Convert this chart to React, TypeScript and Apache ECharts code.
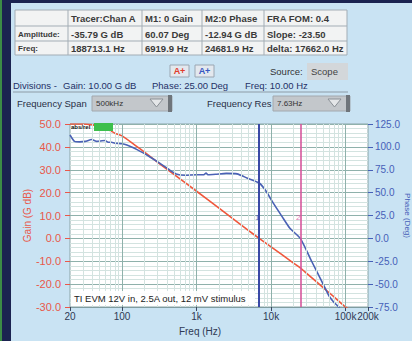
import React, { useEffect, useRef } from "react";
import * as echarts from "echarts";

// ---------- data ----------
const gainFreq = [20, 30, 40, 50, 63, 80, 100, 150, 200, 323, 546, 1000, 2000, 3000, 5000, 6920, 10000, 20000, 24682, 30000, 50000, 70000, 100000, 188713];
const gainDb = [50, 50, 49.6, 49, 47.8, 46, 44.8, 40.7, 37.7, 32.5, 27, 20.6, 13.2, 8.9, 3.4, 0, -3.7, -10.8, -12.94, -15.3, -21.5, -25.6, -30, -35.79];

const phaseFreq = [20, 23, 27, 32, 39, 46, 52, 59, 65, 72, 80, 100, 116, 159, 237, 323, 430, 546, 700, 1000, 1250, 1340, 1420, 1800, 2500, 3500, 4750, 6920, 8500, 10600, 14000, 17900, 24682, 35000, 50000, 60000, 70000, 81000, 100000];
const phaseDeg = [113, 106, 105.5, 106, 108, 106, 106.5, 107, 105, 105, 104, 103.5, 102, 97, 89, 82, 75, 70, 69, 69.5, 69.5, 71.5, 69.5, 70, 71, 70.5, 66, 60.5, 52, 39, 24, 11, 0, -25, -50, -63, -70, -75, -88];

const markerFreqs = [6919.9, 24681.9];
const markerNames = ["1", "2"];
const markerLabelGain = [9, 9];
const markerColors = ["#3a49a6", "#d6569c"];

const majorFreqs = [100, 1000, 10000, 100000];
const minorFreqs = [30, 40, 50, 60, 70, 80, 90, 200, 300, 400, 500, 600, 700, 800, 900, 2000, 3000, 4000, 5000, 6000, 7000, 8000, 9000, 20000, 30000, 40000, 50000, 60000, 70000, 80000, 90000];

const gainMin = -30, gainMax = 50, gainStep = 10;
const phaseMin = -75, phaseMax = 125, phaseStep = 25;

const tableHeader = ["", "Tracer:Chan A", "M1: 0 Gain", "M2:0 Phase", "FRA FOM: 0.4"];
const tableAmp = ["Amplitude:", "-35.79 G dB", "60.07 Deg", "-12.94 G dB", "Slope: -23.50"];
const tableFreq = ["Freq:", "188713.1 Hz", "6919.9 Hz", "24681.9 Hz", "delta: 17662.0 Hz"];

const divisionTexts = ["Divisions -", "Gain: 10.00 G dB", "Phase: 25.00 Deg", "Freq: 10.00 Hz"];
const stimulusNote = "TI EVM 12V in, 2.5A out, 12 mV stimulus";

const FONT = '"Liberation Sans", Arial, sans-serif';

function buildGraphic() {
  const g: any[] = [];
  // frame
  g.push({ type: "rect", z: 100, shape: { x: 0, y: 0, width: 11, height: 341 }, style: { fill: "#1b2350" } });
  g.push({ type: "rect", z: 101, shape: { x: 0, y: 0, width: 2, height: 341 }, style: { fill: "#3c8b45" } });
  g.push({ type: "rect", z: 100, shape: { x: 0, y: 0, width: 412, height: 3 }, style: { fill: "#1b2350" } });

  // table
  const colX = [15, 68, 142, 202, 264, 347];
  const rowY = [10, 26, 41, 55];
  g.push({ type: "rect", z: 100, shape: { x: colX[0], y: rowY[0], width: colX[5] - colX[0], height: rowY[3] - rowY[0] }, style: { fill: "#f2f3f3", stroke: "#a3adb5", lineWidth: 1 } });
  for (let i = 1; i < colX.length - 1; i++) {
    g.push({ type: "line", z: 101, shape: { x1: colX[i], y1: rowY[0], x2: colX[i], y2: rowY[3] }, style: { stroke: "#a3adb5", lineWidth: 1 } });
  }
  for (let j = 1; j < rowY.length - 1; j++) {
    g.push({ type: "line", z: 101, shape: { x1: colX[0], y1: rowY[j], x2: colX[5], y2: rowY[j] }, style: { stroke: "#a3adb5", lineWidth: 1 } });
  }
  const rows = [tableHeader, tableAmp, tableFreq];
  rows.forEach((row, r) => {
    row.forEach((t, c) => {
      if (!t) return;
      g.push({
        type: "text", z: 102, x: colX[c] + 3, y: (rowY[r] + rowY[r + 1]) / 2 + 0.5,
        style: { text: t, font: (c === 0 ? "bold 8px " : "bold 9.5px ") + FONT, fill: "#3a3a3a", verticalAlign: "middle" },
      });
    });
  });

  // buttons
  g.push({ type: "rect", z: 100, shape: { x: 170, y: 65, width: 19, height: 12 }, style: { fill: "#e3e8ee", stroke: "#9aa6b2" } });
  g.push({ type: "text", z: 101, x: 179.5, y: 71, style: { text: "A+", font: "bold 9px " + FONT, fill: "#e23a2a", align: "center", verticalAlign: "middle" } });
  g.push({ type: "rect", z: 100, shape: { x: 195, y: 65, width: 19, height: 12 }, style: { fill: "#e3e8ee", stroke: "#9aa6b2" } });
  g.push({ type: "text", z: 101, x: 204.5, y: 71, style: { text: "A+", font: "bold 9px " + FONT, fill: "#3557c2", align: "center", verticalAlign: "middle" } });

  // source
  g.push({ type: "text", z: 101, x: 270, y: 71.5, style: { text: "Source:", font: "9.5px " + FONT, fill: "#333", verticalAlign: "middle" } });
  g.push({ type: "rect", z: 100, shape: { x: 307, y: 63, width: 41, height: 17 }, style: { fill: "#d3d7da" } });
  g.push({ type: "text", z: 101, x: 311, y: 71.5, style: { text: "Scope", font: "9.5px " + FONT, fill: "#444", verticalAlign: "middle" } });

  // divisions
  const divX = [13, 63, 152, 245];
  divisionTexts.forEach((t, i) => {
    g.push({ type: "text", z: 101, x: divX[i], y: 85, style: { text: t, font: "9.5px " + FONT, fill: "#243066", verticalAlign: "middle" } });
  });
  g.push({ type: "line", z: 101, shape: { x1: 13, y1: 92, x2: 348, y2: 92 }, style: { stroke: "#8d9ba6", lineWidth: 1 } });

  // dropdowns
  const dd = [
    { label: "Frequency Span", lx: 17, bx: 92, bw: 80, val: "500kHz" },
    { label: "Frequency Res", lx: 207, bx: 273, bw: 77, val: "7.63Hz" },
  ];
  dd.forEach((d) => {
    g.push({ type: "text", z: 101, x: d.lx, y: 103.5, style: { text: d.label, font: "9.5px " + FONT, fill: "#2a2f45", verticalAlign: "middle" } });
    g.push({ type: "rect", z: 100, shape: { x: d.bx, y: 96, width: d.bw, height: 15 }, style: { fill: "#c3c7cb", stroke: "#a2a8ae" } });
    g.push({ type: "rect", z: 101, shape: { x: d.bx + d.bw - 4, y: 95, width: 4, height: 17 }, style: { fill: "#6f757b" } });
    g.push({ type: "text", z: 102, x: d.bx + 4, y: 103.5, style: { text: d.val, font: "8px " + FONT, fill: "#333", verticalAlign: "middle" } });
    const tx = d.bx + d.bw - 22;
    g.push({ type: "polygon", z: 102, shape: { points: [[tx, 99], [tx + 13, 99], [tx + 6.5, 107]] }, style: { fill: "#e4e6e8", stroke: "#8a9096" } });
  });

  // in-plot annotations
  g.push({ type: "text", z: 60, x: 71, y: 127, style: { text: "abs/rel", font: "bold 6px " + FONT, fill: "#111", verticalAlign: "middle" } });
  g.push({ type: "rect", z: 60, shape: { x: 94, y: 123, width: 19, height: 8 }, style: { fill: "#3cbf4c" } });
  g.push({ type: "rect", z: 60, shape: { x: 71, y: 291, width: 184, height: 14 }, style: { fill: "rgba(255,255,255,0.92)" } });
  g.push({ type: "text", z: 61, x: 74, y: 298.5, style: { text: stimulusNote, font: "9.5px " + FONT, fill: "#222", verticalAlign: "middle" } });
  return g;
}

function fmtFreq(v: number) {
  const r = Math.round(v);
  if (r >= 1000) return Math.round(r / 1000) + "k";
  return String(r);
}

export default function App() {
  const ref = useRef<HTMLDivElement>(null);
  useEffect(() => {
    document.body.style.margin = "0";
    const chart = echarts.init(ref.current!, null, { renderer: "svg" });
    const gridLines = minorFreqs
      .map((f) => ({ xAxis: f, lineStyle: { color: "#d3e3e0", width: 1, type: "solid" } }))
      .concat(majorFreqs.map((f) => ({ xAxis: f, lineStyle: { color: "#8fb1ab", width: 1, type: "solid" } })));
    const option: any = {
      animation: false,
      backgroundColor: "#c9e3f3",
      textStyle: { fontFamily: FONT },
      grid: {
        left: 70, top: 124, width: 298, height: 183, containLabel: false, outerBoundsMode: "none",
        show: true, backgroundColor: "#ffffff", borderColor: "#8aa5a8", borderWidth: 1,
      },
      xAxis: {
        type: "log", logBase: 10, min: 20, max: 200000,
        axisLine: { show: true, onZero: false, lineStyle: { color: "#7f9ca0" } },
        axisTick: { show: true, length: 4, lineStyle: { color: "#3b4660" } },
        axisLabel: { color: "#2f3a55", fontSize: 10, margin: 4, showMinLabel: true, showMaxLabel: true, hideOverlap: false, formatter: fmtFreq },
        splitLine: { show: false },
        name: "Freq (Hz)", nameLocation: "middle", nameGap: 19, nameMoveOverlap: false,
        nameTextStyle: { color: "#2f3a55", fontSize: 10, padding: [0, 38, 0, 0] },
      },
      yAxis: [
        {
          type: "value", position: "left", min: gainMin, max: gainMax, interval: gainStep,
          axisLine: { show: false, onZero: false },
          axisTick: { show: true, length: 5, lineStyle: { color: "#e8584a" } },
          axisLabel: { color: "#e8584a", fontSize: 11, margin: 9, formatter: (v: number) => v.toFixed(1) },
          splitLine: { show: true, lineStyle: { color: "#8fb1ab" } },
          minorTick: { show: false, splitNumber: 5 },
          minorSplitLine: { show: true, lineStyle: { color: "#d3e3e0" } },
          name: "Gain (G dB)", nameLocation: "middle", nameGap: 38, nameRotate: 90, nameMoveOverlap: false,
          nameTextStyle: { color: "#e8584a", fontSize: 10 },
        },
        {
          type: "value", position: "right", min: phaseMin, max: phaseMax, interval: phaseStep,
          axisLine: { show: false, onZero: false },
          axisTick: { show: true, length: 5, lineStyle: { color: "#4660b8" } },
          axisLabel: { color: "#4660b8", fontSize: 10, margin: 7, formatter: (v: number) => v.toFixed(1) },
          splitLine: { show: false },
          name: "Phase (Deg)", nameLocation: "middle", nameGap: 35, nameRotate: -90, nameMoveOverlap: false,
          nameTextStyle: { color: "#4660b8", fontSize: 8 },
        },
      ],
      graphic: { elements: buildGraphic() },
      series: [
        {
          type: "line", data: [], z: 1, silent: true,
          markLine: { silent: true, symbol: ["none", "none"], label: { show: false }, data: gridLines },
        },
        {
          type: "line", yAxisIndex: 0, z: 3, showSymbol: false, smooth: 0.2, clip: true,
          lineStyle: { color: "#f0573c", width: 1.6 }, itemStyle: { color: "#f0573c" },
          data: gainFreq.map((f, i) => [f, gainDb[i]]),
        },
        {
          type: "line", yAxisIndex: 1, z: 4, showSymbol: false, smooth: 0.2, clip: true,
          lineStyle: { color: "#4a62b5", width: 1.6 }, itemStyle: { color: "#4a62b5" },
          data: phaseFreq.map((f, i) => [f, phaseDeg[i]]),
        },
        {
          type: "scatter", yAxisIndex: 0, z: 5, symbolSize: 0, silent: true,
          data: markerFreqs.map((f, i) => ({
            value: [f, markerLabelGain[i]],
            label: { show: true, formatter: markerNames[i], color: markerColors[i], fontSize: 8, position: "inside", offset: [-2, 0] },
          })),
          markLine: {
            silent: true, symbol: ["none", "none"], label: { show: false },
            data: markerFreqs.map((f, i) => ({ xAxis: f, lineStyle: { color: markerColors[i], width: i === 0 ? 2 : 1.6, type: "solid" } })),
          },
        },
      ],
    };
    chart.setOption(option);
    return () => chart.dispose();
  }, []);
  return <div ref={ref} style={{ position: "absolute", left: 0, top: 0, width: 412, height: 341 }} />;
}
